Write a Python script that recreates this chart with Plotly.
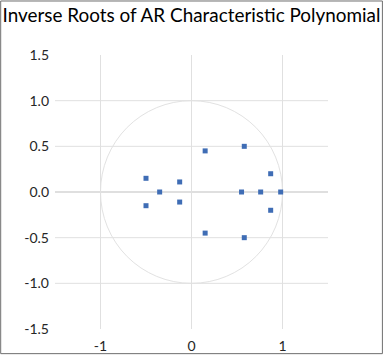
import plotly.graph_objects as go

# Inverse roots (real part, imaginary part)
real_parts = [0.15, 0.15, 0.58, 0.58, 0.87, 0.87, -0.50, -0.50, -0.13, -0.13, -0.35, 0.55, 0.76, 0.98]
imag_parts = [0.45, -0.45, 0.50, -0.50, 0.20, -0.20, 0.15, -0.15, 0.11, -0.11, 0.0, 0.0, 0.0, 0.0]

x_ticks = [-1, 0, 1]
y_ticks = [-1.5, -1.0, -0.5, 0.0, 0.5, 1.0, 1.5]
y_tick_text = ["-1.5", "-1.0", "-0.5", "0.0", "0.5", "1.0", "1.5"]
y_grid = [-1.0, -0.5, 0.5, 1.0]
circle_radius = 1.0
axis_range = [-1.5, 1.5]

W, H = 383, 355
L, R, T, B = 54.8, 55.2, 54.6, 25.9
pw, ph = W - L - R, H - T - B

fig = go.Figure()
fig.add_trace(go.Scatter(
    x=real_parts, y=imag_parts, mode="markers",
    marker=dict(symbol="square", size=5, color="#3f6db5"),
    showlegend=False, hoverinfo="x+y"))

shapes = []
# unit circle
shapes.append(dict(type="circle", xref="x", yref="y",
                   x0=-circle_radius, x1=circle_radius, y0=-circle_radius, y1=circle_radius,
                   line=dict(color="#e2e2e2", width=1), layer="below"))
# horizontal gridlines
for v in y_grid:
    shapes.append(dict(type="line", xref="paper", yref="y", x0=0, x1=1, y0=v, y1=v,
                       line=dict(color="#e0e0e0", width=1), layer="below"))
# zero line
shapes.append(dict(type="line", xref="paper", yref="y", x0=0, x1=1, y0=0, y1=0,
                   line=dict(color="#bfbfbf", width=1), layer="below"))
# outer border
shapes.append(dict(type="rect", xref="paper", yref="paper",
                   x0=(0.5 - L) / pw, x1=(W - 0.8 - L) / pw,
                   y0=-(H - 1.2 - (T + ph)) / ph, y1=1 + (T - 0.5) / ph,
                   line=dict(color="#6e6e6e", width=1)))

fig.update_layout(
    width=W, height=H,
    margin=dict(l=L, r=R, t=T, b=B, autoexpand=False),
    paper_bgcolor="white", plot_bgcolor="white",
    font=dict(family="Lato", size=14, color="#262626"),
    title=dict(text="Inverse Roots of AR Characteristic Polynomial",
               x=0.5, xanchor="center", xref="container",
               y=1 - 22 / H, yanchor="bottom", yref="container",
               font=dict(family="Lato", size=18.9, color="#000000")),
    shapes=shapes,
    xaxis=dict(range=axis_range, tickvals=x_ticks, ticktext=[str(t) for t in x_ticks],
               showgrid=True, gridcolor="#e0e0e0", gridwidth=1,
               zeroline=False, showline=False, ticks="", fixedrange=True,
               ticklabelstandoff=7, automargin=False),
    yaxis=dict(range=axis_range, tickvals=y_ticks, ticktext=y_tick_text,
               showgrid=False, zeroline=False, showline=False, ticks="",
               ticklabelstandoff=5, fixedrange=True, automargin=False),
)

fig.write_html("out.html", config={"displayModeBar": False},
               post_script="document.body.style.margin='0';document.body.style.overflow='hidden';")
